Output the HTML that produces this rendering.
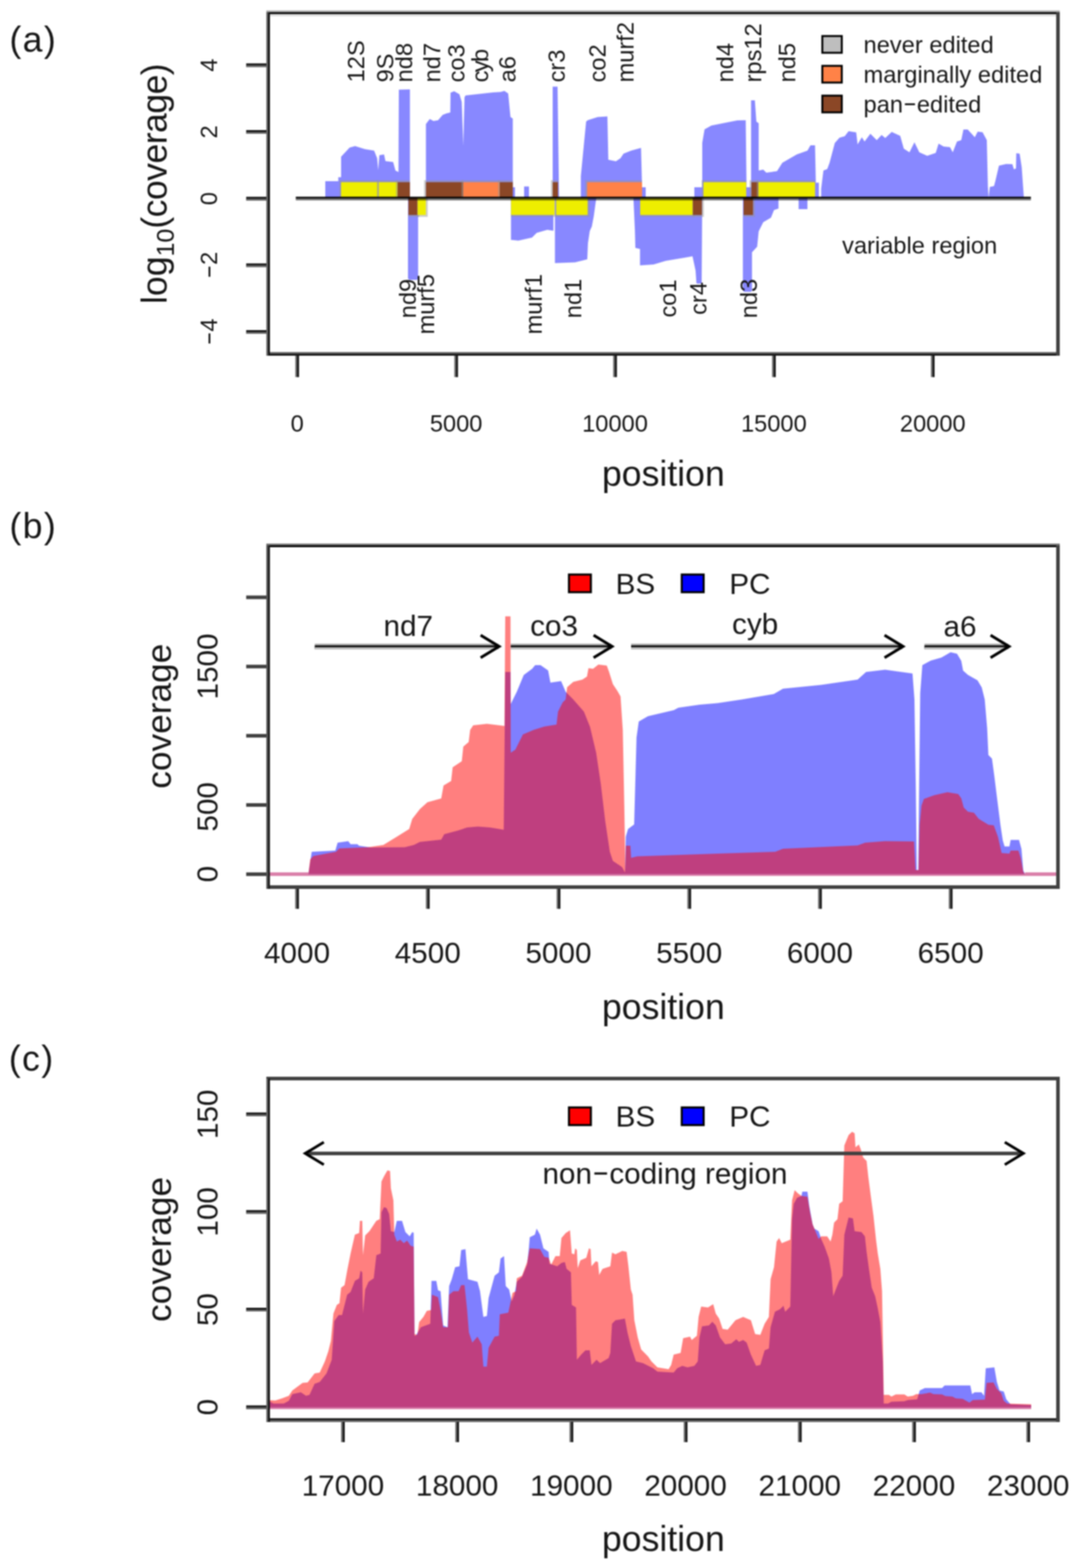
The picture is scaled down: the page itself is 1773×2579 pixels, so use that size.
<!DOCTYPE html>
<html><head><meta charset="utf-8"><title>Figure</title>
<style>
html,body{margin:0;padding:0;background:#fff;}
body{width:1773px;height:2579px;overflow:hidden;}
svg{display:block;}
text{font-family:"Liberation Sans",Arial,Helvetica,sans-serif;fill:#161616;}
</style></head><body>
<svg width="1773" height="2579" viewBox="0 0 1773 2579">
<defs><filter id="soft" x="0" y="0" width="100%" height="100%" filterUnits="objectBoundingBox" color-interpolation-filters="sRGB"><feGaussianBlur stdDeviation="0.85"/></filter></defs>
<g filter="url(#soft)">
<rect width="1773" height="2579" fill="#fff"/>
<polygon points="535.0,325.4 535.0,298.0 556.4,298.0 556.4,291.6 561.0,291.6 561.0,257.8 575.0,242.8 584.0,240.3 600.0,245.3 615.3,247.8 620.3,260.3 622.0,280.0 624.0,255.3 631.6,254.0 634.0,265.0 646.6,266.6 650.4,280.4 655.4,283.0 656.0,147.5 674.2,147.0 674.2,325.4" fill="#8888FF" />
<polygon points="700.5,325.4 700.5,204.0 706.8,195.7 713.0,199.0 720.5,197.7 728.0,189.0 734.3,186.4 740.6,185.0 741.0,152.6 746.9,150.0 755.6,155.0 759.4,167.6 762.0,240.0 764.0,160.0 765.7,157.0 810.8,152.0 823.3,151.3 829.6,149.5 835.8,153.8 839.6,192.6 843.4,195.0 843.4,308.0 847.0,308.0 847.0,325.4" fill="#8888FF" />
<polygon points="862.0,325.4 862.0,306.7 870.0,306.7 870.0,325.4" fill="#8888FF" />
<polygon points="909.0,325.4 909.0,142.5 917.0,142.5 919.5,325.4" fill="#8888FF" />
<polygon points="955.3,325.4 955.3,290.0 964.0,200.0 966.6,197.7 983.0,192.6 999.0,191.4 1000.5,262.8 1013.0,265.3 1020.5,260.3 1025.5,252.8 1038.0,247.8 1054.3,243.3 1056.0,308.0 1062.0,308.0 1062.0,325.4" fill="#8888FF" />
<polygon points="1142.0,325.4 1142.0,308.0 1155.0,308.0 1155.0,235.0 1158.8,212.7 1170.0,206.4 1195.0,201.4 1212.7,198.0 1226.5,197.7 1227.8,308.0 1235.3,308.0 1235.3,165.0 1241.5,165.0 1244.0,200.0 1247.8,202.7 1247.8,280.4 1255.3,279.0 1260.4,284.0 1278.0,281.6 1286.7,267.8 1310.5,254.0 1328.0,247.8 1333.0,239.0 1340.5,239.0 1341.8,300.4 1346.8,300.4 1346.8,325.4" fill="#8888FF" />
<polygon points="1350.6,325.4 1350.6,310.5 1354.3,280.4 1360.6,278.0 1364.4,267.8 1373.0,235.3 1380.7,226.5 1389.4,224.0 1395.7,215.7 1408.2,217.7 1410.5,237.5 1417.5,225.8 1422.0,232.8 1431.5,220.0 1442.0,230.5 1450.0,222.0 1456.0,227.0 1466.6,217.0 1480.6,223.5 1486.5,244.5 1495.8,250.4 1504.0,234.0 1512.0,250.4 1525.0,256.2 1539.0,251.5 1543.7,236.3 1552.0,241.0 1562.4,242.0 1567.0,250.4 1574.0,232.8 1581.0,230.5 1584.6,213.0 1591.6,213.0 1603.3,225.8 1608.0,216.5 1616.0,217.6 1623.0,230.5 1624.8,307.6 1626.0,325.4 1628.0,307.6 1634.9,306.0 1637.0,298.0 1643.0,272.5 1654.7,269.7 1665.0,270.0 1667.6,278.4 1671.0,277.0 1671.5,252.0 1677.0,252.7 1680.4,275.0 1684.0,325.4" fill="#8888FF" />
<polygon points="671.0,325.4 671.0,458.0 673.0,460.3 686.0,460.3 687.7,458.0 687.7,325.4" fill="#8888FF" />
<polygon points="840.4,325.4 840.4,394.4 852.6,395.7 875.0,390.7 882.7,383.0 900.0,378.0 910.2,379.4 910.2,325.4" fill="#8888FF" />
<polygon points="912.7,325.4 912.7,432.7 945.8,431.5 965.9,426.5 967.0,400.0 970.0,380.0 973.4,372.6 976.6,355.6 980.4,328.0 981.0,325.4" fill="#8888FF" />
<polygon points="1041.8,325.4 1044.3,380.6 1045.0,407.7 1052.6,409.5 1052.6,436.5 1075.0,435.0 1095.0,429.0 1125.0,424.0 1139.0,421.5 1144.0,445.0 1145.4,465.0 1146.0,466.6 1154.0,466.6 1155.0,325.4" fill="#8888FF" />
<polygon points="1221.8,325.4 1221.8,478.0 1224.0,480.0 1235.0,480.0 1236.8,478.0 1236.8,415.0 1245.3,405.7 1247.8,380.6 1255.3,365.6 1268.0,358.0 1273.0,345.5 1280.4,343.0 1280.4,325.4" fill="#8888FF" />
<polygon points="1313.5,325.4 1313.5,344.0 1328.0,344.0 1328.0,325.4" fill="#8888FF" />
<rect x="561.00" y="299.50" width="60.60" height="25.90" fill="#EEEE00" />
<rect x="558.04" y="296.50" width="63.56" height="3.00" fill="rgba(150,150,150,0.5)" />
<rect x="558.04" y="299.50" width="2.96" height="25.90" fill="rgba(150,150,150,0.5)" />
<rect x="622.80" y="299.50" width="31.20" height="25.90" fill="#EEEE00" />
<rect x="619.84" y="296.50" width="34.16" height="3.00" fill="rgba(150,150,150,0.5)" />
<rect x="619.84" y="299.50" width="2.96" height="25.90" fill="rgba(150,150,150,0.5)" />
<rect x="654.00" y="299.50" width="20.20" height="25.90" fill="#8B4726" />
<rect x="651.04" y="296.50" width="23.16" height="3.00" fill="rgba(150,150,150,0.5)" />
<rect x="651.04" y="299.50" width="2.96" height="25.90" fill="rgba(150,150,150,0.5)" />
<rect x="700.50" y="299.50" width="61.50" height="25.90" fill="#8B4726" />
<rect x="697.54" y="296.50" width="64.45" height="3.00" fill="rgba(150,150,150,0.5)" />
<rect x="697.54" y="299.50" width="2.96" height="25.90" fill="rgba(150,150,150,0.5)" />
<rect x="762.00" y="299.50" width="60.00" height="25.90" fill="#FF8247" />
<rect x="759.04" y="296.50" width="62.95" height="3.00" fill="rgba(150,150,150,0.5)" />
<rect x="759.04" y="299.50" width="2.96" height="25.90" fill="rgba(150,150,150,0.5)" />
<rect x="822.00" y="299.50" width="21.40" height="25.90" fill="#8B4726" />
<rect x="819.04" y="296.50" width="24.35" height="3.00" fill="rgba(150,150,150,0.5)" />
<rect x="819.04" y="299.50" width="2.96" height="25.90" fill="rgba(150,150,150,0.5)" />
<rect x="909.00" y="299.50" width="8.70" height="25.90" fill="#8B4726" />
<rect x="906.04" y="296.50" width="11.66" height="3.00" fill="rgba(150,150,150,0.5)" />
<rect x="906.04" y="299.50" width="2.96" height="25.90" fill="rgba(150,150,150,0.5)" />
<rect x="965.40" y="299.50" width="90.60" height="25.90" fill="#FF8247" />
<rect x="962.44" y="296.50" width="93.56" height="3.00" fill="rgba(150,150,150,0.5)" />
<rect x="962.44" y="299.50" width="2.96" height="25.90" fill="rgba(150,150,150,0.5)" />
<rect x="1157.00" y="299.50" width="70.30" height="25.90" fill="#EEEE00" />
<rect x="1154.05" y="296.50" width="73.25" height="3.00" fill="rgba(150,150,150,0.5)" />
<rect x="1154.05" y="299.50" width="2.96" height="25.90" fill="rgba(150,150,150,0.5)" />
<rect x="1235.80" y="299.50" width="11.50" height="25.90" fill="#8B4726" />
<rect x="1232.85" y="296.50" width="14.46" height="3.00" fill="rgba(150,150,150,0.5)" />
<rect x="1232.85" y="299.50" width="2.96" height="25.90" fill="rgba(150,150,150,0.5)" />
<rect x="1247.30" y="299.50" width="93.20" height="25.90" fill="#EEEE00" />
<rect x="1244.35" y="296.50" width="96.16" height="3.00" fill="rgba(150,150,150,0.5)" />
<rect x="1244.35" y="299.50" width="2.96" height="25.90" fill="rgba(150,150,150,0.5)" />
<rect x="671.70" y="325.40" width="15.00" height="28.30" fill="#8B4726" />
<rect x="671.70" y="353.70" width="17.95" height="2.96" fill="rgba(150,150,150,0.5)" />
<rect x="686.70" y="325.40" width="2.96" height="28.30" fill="rgba(150,150,150,0.5)" />
<rect x="686.70" y="325.40" width="13.80" height="28.30" fill="#EEEE00" />
<rect x="686.70" y="353.70" width="16.75" height="2.96" fill="rgba(150,150,150,0.5)" />
<rect x="700.50" y="325.40" width="2.96" height="28.30" fill="rgba(150,150,150,0.5)" />
<rect x="840.50" y="325.40" width="71.70" height="28.30" fill="#EEEE00" />
<rect x="840.50" y="353.70" width="74.66" height="2.96" fill="rgba(150,150,150,0.5)" />
<rect x="912.20" y="325.40" width="2.96" height="28.30" fill="rgba(150,150,150,0.5)" />
<rect x="914.70" y="325.40" width="51.90" height="28.30" fill="#EEEE00" />
<rect x="914.70" y="353.70" width="54.85" height="2.96" fill="rgba(150,150,150,0.5)" />
<rect x="966.60" y="325.40" width="2.96" height="28.30" fill="rgba(150,150,150,0.5)" />
<rect x="1053.00" y="325.40" width="86.50" height="28.30" fill="#EEEE00" />
<rect x="1053.00" y="353.70" width="89.45" height="2.96" fill="rgba(150,150,150,0.5)" />
<rect x="1139.50" y="325.40" width="2.96" height="28.30" fill="rgba(150,150,150,0.5)" />
<rect x="1139.50" y="325.40" width="15.10" height="28.30" fill="#8B4726" />
<rect x="1139.50" y="353.70" width="18.05" height="2.96" fill="rgba(150,150,150,0.5)" />
<rect x="1154.60" y="325.40" width="2.96" height="28.30" fill="rgba(150,150,150,0.5)" />
<rect x="1223.00" y="325.40" width="15.60" height="28.30" fill="#8B4726" />
<rect x="1223.00" y="353.70" width="18.55" height="2.96" fill="rgba(150,150,150,0.5)" />
<rect x="1238.60" y="325.40" width="2.96" height="28.30" fill="rgba(150,150,150,0.5)" />
<rect x="486.50" y="323.60" width="1209.00" height="2.96" fill="#000" />
<rect x="486.50" y="326.56" width="1209.00" height="2.96" fill="rgba(0,0,0,0.55)" />
<rect x="438.00" y="17.20" width="1305.01" height="8.87" fill="#aaa" />
<rect x="438.00" y="20.16" width="1305.01" height="5.91" fill="#000" />
<rect x="438.00" y="23.11" width="1305.01" height="2.96" fill="#ddd" />
<rect x="438.00" y="579.00" width="1305.01" height="5.91" fill="#666" />
<rect x="438.00" y="581.96" width="1305.01" height="2.96" fill="#111" />
<rect x="438.00" y="20.16" width="5.91" height="564.75" fill="#666" />
<rect x="440.95" y="20.16" width="2.96" height="564.75" fill="#111" />
<rect x="1737.10" y="20.16" width="5.91" height="564.75" fill="#404040" />
<rect x="404.90" y="104.30" width="33.10" height="5.91" fill="#111" />
<rect x="404.90" y="107.25" width="33.10" height="2.96" fill="#666" />
<text x="0.0" y="0.0" font-size="38.9" text-anchor="middle" transform="translate(357.4 107.2) rotate(-90)" >4</text>
<rect x="404.90" y="214.00" width="33.10" height="5.91" fill="#111" />
<rect x="404.90" y="216.96" width="33.10" height="2.96" fill="#666" />
<text x="0.0" y="0.0" font-size="38.9" text-anchor="middle" transform="translate(357.4 216.9) rotate(-90)" >2</text>
<rect x="404.90" y="323.70" width="33.10" height="5.91" fill="#111" />
<rect x="404.90" y="326.65" width="33.10" height="2.96" fill="#666" />
<text x="0.0" y="0.0" font-size="38.9" text-anchor="middle" transform="translate(357.4 326.6) rotate(-90)" >0</text>
<rect x="404.90" y="433.30" width="33.10" height="5.91" fill="#111" />
<rect x="404.90" y="436.25" width="33.10" height="2.96" fill="#666" />
<text x="0.0" y="0.0" font-size="38.9" text-anchor="middle" transform="translate(357.4 436.2) rotate(-90)" ><tspan textLength="22.7" lengthAdjust="spacingAndGlyphs" dy="-2.8">-</tspan><tspan dy="2.8">2</tspan></text>
<rect x="404.90" y="543.00" width="33.10" height="5.91" fill="#111" />
<rect x="404.90" y="545.96" width="33.10" height="2.96" fill="#666" />
<text x="0.0" y="0.0" font-size="38.9" text-anchor="middle" transform="translate(357.4 545.9) rotate(-90)" ><tspan textLength="22.7" lengthAdjust="spacingAndGlyphs" dy="-2.8">-</tspan><tspan dy="2.8">4</tspan></text>
<rect x="485.75" y="584.90" width="5.91" height="35.30" fill="#666" />
<rect x="488.70" y="584.90" width="2.96" height="35.30" fill="#111" />
<text x="488.7" y="709.7" font-size="38.9" text-anchor="middle" >0</text>
<rect x="747.25" y="584.90" width="5.91" height="35.30" fill="#666" />
<rect x="750.20" y="584.90" width="2.96" height="35.30" fill="#111" />
<text x="750.2" y="709.7" font-size="38.9" text-anchor="middle" >5000</text>
<rect x="1008.54" y="584.90" width="5.91" height="35.30" fill="#666" />
<rect x="1011.50" y="584.90" width="2.96" height="35.30" fill="#111" />
<text x="1011.5" y="709.7" font-size="38.9" text-anchor="middle" >10000</text>
<rect x="1269.85" y="584.90" width="5.91" height="35.30" fill="#666" />
<rect x="1272.80" y="584.90" width="2.96" height="35.30" fill="#111" />
<text x="1272.8" y="709.7" font-size="38.9" text-anchor="middle" >15000</text>
<rect x="1531.14" y="584.90" width="5.91" height="35.30" fill="#666" />
<rect x="1534.10" y="584.90" width="2.96" height="35.30" fill="#111" />
<text x="1534.1" y="709.7" font-size="38.9" text-anchor="middle" >20000</text>
<text x="1091.0" y="799.0" font-size="58.6" text-anchor="middle" >position</text>
<text x="15.5" y="85.0" font-size="58.6" text-anchor="start" letter-spacing="2.3">(a)</text>
<text transform="translate(273.8 302.5) rotate(-90)" font-size="58.6" text-anchor="middle">log<tspan font-size="41" dy="12">10</tspan><tspan dy="-12" letter-spacing="-0.9">(coverage)</tspan></text>
<text x="0.0" y="0.0" font-size="38.9" text-anchor="start" transform="translate(599.0 135.6) rotate(-90)" >12S</text>
<text x="0.0" y="0.0" font-size="38.9" text-anchor="start" transform="translate(647.0 135.6) rotate(-90)" >9S</text>
<text x="0.0" y="0.0" font-size="38.9" text-anchor="start" transform="translate(677.5 135.6) rotate(-90)" >nd8</text>
<text x="0.0" y="0.0" font-size="38.9" text-anchor="start" transform="translate(724.0 135.6) rotate(-90)" >nd7</text>
<text x="0.0" y="0.0" font-size="38.9" text-anchor="start" transform="translate(764.0 135.6) rotate(-90)" >co3</text>
<text x="0.0" y="0.0" font-size="38.9" text-anchor="start" transform="translate(803.0 135.6) rotate(-90)" letter-spacing="-2.6">cyb</text>
<text x="0.0" y="0.0" font-size="38.9" text-anchor="start" transform="translate(847.5 135.6) rotate(-90)" >a6</text>
<text x="0.0" y="0.0" font-size="38.9" text-anchor="start" transform="translate(928.5 135.6) rotate(-90)" >cr3</text>
<text x="0.0" y="0.0" font-size="38.9" text-anchor="start" transform="translate(996.0 135.6) rotate(-90)" >co2</text>
<text x="0.0" y="0.0" font-size="38.9" text-anchor="start" transform="translate(1041.5 135.6) rotate(-90)" >murf2</text>
<text x="0.0" y="0.0" font-size="38.9" text-anchor="start" transform="translate(1206.0 135.6) rotate(-90)" >nd4</text>
<text x="0.0" y="0.0" font-size="38.9" text-anchor="start" transform="translate(1251.5 135.6) rotate(-90)" >rps12</text>
<text x="0.0" y="0.0" font-size="38.9" text-anchor="start" transform="translate(1308.0 135.6) rotate(-90)" >nd5</text>
<text x="0.0" y="0.0" font-size="38.9" text-anchor="middle" transform="translate(683.5 491.0) rotate(-90)" >nd9</text>
<text x="0.0" y="0.0" font-size="38.9" text-anchor="middle" transform="translate(714.0 500.4) rotate(-90)" >murf5</text>
<text x="0.0" y="0.0" font-size="38.9" text-anchor="middle" transform="translate(891.0 500.4) rotate(-90)" >murf1</text>
<text x="0.0" y="0.0" font-size="38.9" text-anchor="middle" transform="translate(956.0 491.0) rotate(-90)" >nd1</text>
<text x="0.0" y="0.0" font-size="38.9" text-anchor="middle" transform="translate(1112.0 491.0) rotate(-90)" >co1</text>
<text x="0.0" y="0.0" font-size="38.9" text-anchor="middle" transform="translate(1162.0 491.0) rotate(-90)" >cr4</text>
<text x="0.0" y="0.0" font-size="38.9" text-anchor="middle" transform="translate(1245.0 491.0) rotate(-90)" >nd3</text>
<text x="1385.0" y="417.3" font-size="38.9" text-anchor="start" >variable region</text>
<rect x="1352.50" y="59.30" width="32.00" height="27.50" fill="#BEBEBE" stroke="#000" stroke-width="3.2"/>
<text x="1420.3" y="87.0" font-size="38.9" text-anchor="start" >never edited</text>
<rect x="1352.50" y="108.30" width="32.00" height="27.50" fill="#FF8247" stroke="#000" stroke-width="3.2"/>
<text x="1420.3" y="135.8" font-size="38.9" text-anchor="start" >marginally edited</text>
<rect x="1352.50" y="157.30" width="32.00" height="27.50" fill="#8B4726" stroke="#000" stroke-width="3.2"/>
<text x="1420.3" y="184.6" font-size="38.9" text-anchor="start" >pan<tspan textLength="22.7" lengthAdjust="spacingAndGlyphs" dy="-2.8">-</tspan><tspan dy="2.8">edited</tspan></text>
<rect x="441.00" y="1437.70" width="1296.10" height="2.90" fill="#d878a4" />
<rect x="441.00" y="1434.90" width="66.20" height="2.90" fill="#d878a4" />
<rect x="1686.00" y="1434.90" width="51.10" height="2.90" fill="#d878a4" />
<polygon points="507.2,1437.8 512.7,1401.0 551.5,1399.0 555.3,1386.0 572.8,1383.5 576.6,1388.5 587.9,1388.5 590.4,1391.0 610.4,1394.0 665.6,1393.5 680.6,1389.7 690.6,1384.7 725.7,1381.0 730.7,1372.0 753.3,1366.0 768.3,1361.0 785.9,1359.6 806.0,1361.0 828.5,1364.7 831.0,1105.3 839.6,1105.3 840.0,1157.9 850.0,1137.8 861.4,1110.3 875.2,1100.0 880.2,1094.0 889.0,1094.0 901.5,1102.8 905.3,1122.8 922.8,1120.3 930.3,1137.8 942.9,1150.4 960.4,1170.4 970.4,1195.5 980.5,1238.0 988.0,1288.2 995.5,1350.9 1003.0,1401.0 1008.0,1416.0 1023.0,1426.0 1028.0,1435.0 1029.3,1376.0 1033.0,1363.4 1043.0,1356.0 1046.9,1213.0 1050.6,1186.7 1065.7,1178.0 1108.3,1168.0 1115.8,1164.0 1150.9,1159.0 1180.0,1156.6 1220.0,1150.4 1272.7,1141.6 1287.8,1132.8 1350.4,1126.6 1410.6,1117.8 1424.4,1105.3 1455.7,1101.5 1500.8,1107.8 1504.0,1150.4 1506.3,1300.0 1507.8,1431.0 1510.3,1431.0 1511.3,1330.0 1513.5,1140.0 1517.0,1094.0 1530.9,1086.5 1548.4,1081.5 1563.5,1072.7 1574.0,1075.3 1581.0,1087.0 1584.0,1103.0 1591.9,1110.0 1607.7,1118.9 1614.7,1130.8 1619.6,1150.6 1623.6,1198.0 1625.6,1241.7 1631.5,1247.7 1635.5,1277.4 1639.4,1309.0 1645.4,1356.6 1649.3,1382.4 1652.3,1392.3 1660.2,1392.3 1662.2,1381.4 1676.0,1381.4 1680.0,1396.3 1683.0,1432.0 1686.0,1437.8" fill="rgba(0,0,255,0.5)" />
<polygon points="507.2,1437.8 510.2,1413.5 515.2,1408.0 552.8,1401.0 557.8,1395.5 605.4,1393.5 630.5,1389.7 653.0,1376.0 673.0,1363.4 678.0,1347.0 690.6,1330.8 703.0,1319.5 725.7,1313.3 729.5,1292.0 742.0,1284.5 744.5,1262.0 759.5,1251.9 762.0,1228.0 770.8,1220.5 773.3,1200.5 778.3,1193.0 800.9,1190.5 829.7,1194.0 831.0,1013.8 839.6,1013.8 840.0,1238.0 847.6,1233.0 860.0,1208.0 877.7,1200.5 895.2,1195.0 915.3,1191.7 917.8,1170.4 925.3,1155.4 930.3,1150.4 932.8,1130.3 942.9,1121.5 957.9,1117.8 965.4,1112.8 967.9,1099.0 975.4,1100.0 984.2,1093.0 998.0,1094.7 1001.8,1105.3 1008.0,1125.3 1015.5,1136.6 1020.6,1145.4 1024.3,1200.5 1026.8,1325.8 1028.6,1433.6 1029.3,1391.0 1036.8,1391.0 1038.0,1411.0 1048.0,1408.5 1180.0,1404.0 1275.0,1401.0 1287.8,1396.0 1410.6,1390.5 1423.0,1386.0 1455.7,1383.5 1503.3,1384.0 1505.8,1431.0 1510.8,1431.0 1512.6,1356.6 1515.6,1325.0 1519.6,1314.0 1536.4,1308.0 1558.2,1303.0 1576.0,1306.0 1581.0,1313.0 1585.0,1328.0 1591.9,1334.9 1601.8,1336.8 1609.7,1346.7 1625.6,1356.6 1634.5,1357.6 1641.4,1376.5 1647.4,1403.0 1660.2,1404.0 1662.2,1399.0 1675.0,1399.0 1679.0,1412.0 1683.0,1434.0 1686.0,1437.8" fill="rgba(255,0,0,0.5)" />
<rect x="438.00" y="894.00" width="1305.01" height="5.91" fill="#777" />
<rect x="438.00" y="896.96" width="1305.01" height="2.96" fill="#000" />
<rect x="438.00" y="1456.10" width="1305.01" height="5.91" fill="#404040" />
<rect x="438.00" y="896.96" width="5.91" height="565.05" fill="#555" />
<rect x="440.95" y="896.96" width="2.96" height="565.05" fill="#1a1a1a" />
<rect x="1737.10" y="896.96" width="5.91" height="565.05" fill="#404040" />
<rect x="404.90" y="1434.90" width="33.10" height="5.91" fill="#404040" />
<text x="0.0" y="0.0" font-size="48.8" text-anchor="middle" transform="translate(358.0 1437.8) rotate(-90)" >0</text>
<rect x="404.90" y="1321.05" width="33.10" height="5.91" fill="#404040" />
<text x="0.0" y="0.0" font-size="48.8" text-anchor="middle" transform="translate(358.0 1327.0) rotate(-90)" >500</text>
<rect x="404.90" y="1207.20" width="33.10" height="5.91" fill="#404040" />
<rect x="404.90" y="1093.35" width="33.10" height="5.91" fill="#404040" />
<text x="0.0" y="0.0" font-size="48.8" text-anchor="middle" transform="translate(358.0 1096.2) rotate(-90)" >1500</text>
<rect x="404.90" y="979.50" width="33.10" height="5.91" fill="#404040" />
<rect x="485.55" y="1462.00" width="5.91" height="32.70" fill="#666" />
<rect x="488.50" y="1462.00" width="2.96" height="32.70" fill="#111" />
<text x="488.5" y="1584.4" font-size="48.8" text-anchor="middle" >4000</text>
<rect x="700.54" y="1462.00" width="5.91" height="32.70" fill="#666" />
<rect x="703.50" y="1462.00" width="2.96" height="32.70" fill="#111" />
<text x="703.5" y="1584.4" font-size="48.8" text-anchor="middle" >4500</text>
<rect x="915.54" y="1462.00" width="5.91" height="32.70" fill="#666" />
<rect x="918.50" y="1462.00" width="2.96" height="32.70" fill="#111" />
<text x="918.5" y="1584.4" font-size="48.8" text-anchor="middle" >5000</text>
<rect x="1130.55" y="1462.00" width="5.91" height="32.70" fill="#666" />
<rect x="1133.50" y="1462.00" width="2.96" height="32.70" fill="#111" />
<text x="1133.5" y="1584.4" font-size="48.8" text-anchor="middle" >5500</text>
<rect x="1345.55" y="1462.00" width="5.91" height="32.70" fill="#666" />
<rect x="1348.50" y="1462.00" width="2.96" height="32.70" fill="#111" />
<text x="1348.5" y="1584.4" font-size="48.8" text-anchor="middle" >6000</text>
<rect x="1560.55" y="1462.00" width="5.91" height="32.70" fill="#666" />
<rect x="1563.50" y="1462.00" width="2.96" height="32.70" fill="#111" />
<text x="1563.5" y="1584.4" font-size="48.8" text-anchor="middle" >6500</text>
<text x="1091.0" y="1675.6" font-size="58.6" text-anchor="middle" >position</text>
<text x="15.5" y="884.7" font-size="58.6" text-anchor="start" letter-spacing="2.3">(b)</text>
<text x="0.0" y="0.0" font-size="58.0" text-anchor="middle" transform="translate(281.0 1178.0) rotate(-90)" >coverage</text>
<rect x="935.80" y="945.00" width="36.00" height="29.00" fill="#FF0000" stroke="#000" stroke-width="3.4"/>
<text x="1012.5" y="976.5" font-size="48.8" text-anchor="start" >BS</text>
<rect x="1121.30" y="945.00" width="36.00" height="29.00" fill="#0000FF" stroke="#000" stroke-width="3.4"/>
<text x="1199.5" y="976.5" font-size="48.8" text-anchor="start" >PC</text>
<rect x="517.70" y="1058.70" width="301.80" height="8.87" fill="#aaa" />
<rect x="517.70" y="1061.65" width="301.80" height="5.91" fill="#000" />
<rect x="517.70" y="1064.61" width="301.80" height="2.96" fill="#ccc" />
<polyline points="790.5,1044.7 821.0,1063.2 790.5,1081.7" fill="none" stroke="#000" stroke-width="4.6" stroke-linejoin="miter" stroke-linecap="butt"/>
<text x="671.5" y="1046.4" font-size="48.8" text-anchor="middle" >nd7</text>
<rect x="840.00" y="1058.70" width="165.30" height="8.87" fill="#aaa" />
<rect x="840.00" y="1061.65" width="165.30" height="5.91" fill="#000" />
<rect x="840.00" y="1064.61" width="165.30" height="2.96" fill="#ccc" />
<polyline points="976.3,1044.7 1006.8,1063.2 976.3,1081.7" fill="none" stroke="#000" stroke-width="4.6" stroke-linejoin="miter" stroke-linecap="butt"/>
<text x="911.3" y="1046.4" font-size="48.8" text-anchor="middle" >co3</text>
<rect x="1038.00" y="1058.70" width="445.80" height="8.87" fill="#aaa" />
<rect x="1038.00" y="1061.65" width="445.80" height="5.91" fill="#000" />
<rect x="1038.00" y="1064.61" width="445.80" height="2.96" fill="#ccc" />
<polyline points="1454.8,1044.7 1485.3,1063.2 1454.8,1081.7" fill="none" stroke="#000" stroke-width="4.6" stroke-linejoin="miter" stroke-linecap="butt"/>
<text x="1242.0" y="1043.0" font-size="48.8" text-anchor="middle" >cyb</text>
<rect x="1520.50" y="1058.70" width="137.70" height="8.87" fill="#aaa" />
<rect x="1520.50" y="1061.65" width="137.70" height="5.91" fill="#000" />
<rect x="1520.50" y="1064.61" width="137.70" height="2.96" fill="#ccc" />
<polyline points="1629.2,1044.7 1659.7,1063.2 1629.2,1081.7" fill="none" stroke="#000" stroke-width="4.6" stroke-linejoin="miter" stroke-linecap="butt"/>
<text x="1579.0" y="1046.6" font-size="48.8" text-anchor="middle" >a6</text>
<rect x="441.00" y="2314.70" width="1255.00" height="2.90" fill="#d878a4" />
<polygon points="441.0,2314.8 441.0,2303.6 449.7,2308.4 466.7,2308.4 475.0,2304.0 480.8,2292.9 494.8,2290.0 503.3,2295.7 509.0,2294.3 517.4,2276.0 525.9,2273.0 537.0,2259.0 545.6,2236.5 549.8,2173.0 556.9,2163.0 562.5,2163.0 571.0,2129.4 576.6,2125.0 583.7,2106.8 590.7,2102.6 593.0,2089.9 595.8,2092.7 597.0,2160.4 600.6,2121.0 606.2,2108.2 614.7,2102.6 619.0,2064.5 626.0,2061.7 627.4,1994.0 631.6,1985.6 635.8,1987.0 640.0,1996.8 642.9,2025.0 648.5,2026.4 652.7,2008.0 661.2,2008.0 666.8,2026.4 673.9,2033.5 678.0,2026.4 680.4,2027.8 681.8,2197.0 683.8,2197.0 692.2,2183.0 707.7,2177.3 709.7,2106.8 717.6,2106.8 720.4,2122.3 724.6,2123.7 728.9,2180.0 736.0,2183.0 738.7,2115.3 743.0,2104.0 748.6,2084.2 755.7,2082.8 758.5,2056.0 765.5,2054.6 769.7,2104.0 785.3,2108.2 789.5,2123.7 795.0,2166.0 800.8,2164.6 803.6,2135.0 813.5,2098.3 820.5,2092.7 823.3,2070.0 829.0,2066.0 831.8,2115.3 837.4,2121.0 841.6,2140.6 846.0,2130.0 850.0,2108.0 858.6,2100.0 867.0,2080.0 869.8,2053.2 871.3,2035.0 879.7,2030.7 882.6,2020.8 888.2,2030.7 893.8,2053.2 902.3,2058.9 903.7,2078.6 916.4,2082.8 923.4,2077.2 929.0,2075.8 931.9,2087.0 939.0,2092.7 940.4,2146.3 947.4,2150.5 948.8,2236.5 955.9,2228.0 962.9,2221.0 970.0,2221.0 972.8,2245.0 981.2,2236.5 986.9,2242.0 1001.0,2233.7 1003.8,2225.2 1006.6,2177.3 1012.3,2171.6 1027.8,2168.8 1032.0,2191.4 1037.6,2214.0 1046.0,2239.3 1057.4,2242.0 1074.3,2250.6 1081.3,2256.0 1108.0,2257.6 1113.8,2250.6 1122.2,2246.4 1130.7,2249.0 1142.0,2246.4 1147.6,2239.3 1150.4,2199.8 1154.6,2181.5 1166.0,2180.0 1171.6,2173.9 1177.2,2180.0 1184.2,2199.8 1192.7,2211.0 1202.6,2209.7 1211.0,2202.7 1215.3,2207.0 1222.3,2204.0 1228.0,2208.3 1235.0,2228.0 1243.5,2246.4 1250.5,2245.0 1257.6,2221.0 1264.6,2218.0 1267.4,2183.0 1274.5,2157.6 1283.0,2153.3 1288.6,2147.7 1291.4,2157.6 1299.8,2149.0 1302.7,2005.3 1305.5,1980.0 1311.0,1970.0 1318.2,1967.0 1319.6,1960.0 1328.0,1960.0 1330.9,1982.7 1336.5,2013.8 1339.3,2020.8 1346.4,2025.0 1350.6,2037.7 1356.3,2050.4 1363.3,2070.0 1367.5,2092.7 1370.4,2132.0 1374.6,2121.0 1380.2,2106.8 1385.9,2098.3 1388.7,2030.7 1391.5,2019.4 1395.7,2002.5 1402.8,2004.0 1405.6,2025.0 1416.9,2026.4 1422.5,2033.5 1425.3,2058.9 1429.6,2089.9 1433.8,2118.0 1439.4,2132.0 1443.7,2151.9 1447.9,2174.5 1452.0,2239.3 1453.5,2308.4 1460.6,2308.4 1466.2,2305.6 1487.4,2304.8 1493.0,2302.8 1508.5,2301.4 1512.7,2287.0 1521.2,2283.0 1549.4,2283.0 1553.6,2278.8 1595.9,2278.8 1598.7,2293.0 1603.0,2290.0 1614.2,2290.0 1618.5,2295.7 1621.3,2250.6 1635.4,2249.0 1639.6,2273.0 1643.9,2287.0 1650.9,2288.7 1655.0,2301.4 1662.0,2309.8 1696.0,2311.0 1696.0,2314.8" fill="rgba(0,0,255,0.5)" />
<polygon points="441.0,2314.8 441.0,2302.8 452.6,2303.6 463.8,2300.0 475.0,2295.7 480.8,2287.0 497.7,2274.6 506.0,2273.7 517.4,2259.0 525.9,2257.6 534.3,2239.3 540.0,2222.4 544.2,2205.5 548.4,2160.4 554.0,2146.3 558.3,2143.5 561.0,2118.0 566.7,2113.8 571.0,2089.9 576.6,2061.7 583.7,2030.7 590.7,2027.9 592.0,2008.0 595.8,2008.0 597.0,2064.5 600.6,2032.0 607.6,2025.0 618.9,2008.0 624.5,2005.3 627.4,1943.3 631.6,1934.8 637.2,1925.0 641.5,1926.0 642.9,1954.5 647.0,1974.3 648.5,2030.7 652.7,2042.0 658.4,2039.0 664.0,2044.8 669.7,2040.5 675.3,2049.0 680.4,2050.4 681.8,2194.2 686.6,2195.6 689.4,2174.5 696.4,2166.0 702.0,2156.0 709.0,2154.7 710.5,2129.4 720.4,2133.6 724.6,2154.7 728.9,2183.0 736.8,2183.0 738.7,2129.4 745.8,2123.7 754.2,2123.7 758.5,2113.8 764.0,2113.8 768.3,2154.7 771.2,2191.4 776.8,2208.3 785.3,2198.4 792.3,2211.0 795.0,2247.8 800.8,2247.8 803.6,2216.8 813.5,2198.4 820.5,2197.0 822.0,2161.8 836.0,2159.0 843.0,2126.5 848.7,2123.7 850.0,2102.6 858.6,2098.3 867.0,2075.8 871.3,2053.2 888.2,2054.6 895.2,2067.3 902.3,2068.7 906.5,2080.0 913.6,2066.0 920.6,2066.0 923.4,2036.3 930.5,2027.9 937.5,2023.6 940.4,2061.7 944.6,2063.0 946.0,2053.2 948.8,2056.0 950.2,2085.7 954.5,2073.0 964.3,2068.7 968.6,2053.2 971.4,2054.6 972.8,2082.8 979.8,2074.4 983.5,2075.8 985.5,2097.0 991.0,2087.0 1003.8,2082.8 1006.6,2060.3 1012.3,2063.0 1023.5,2057.5 1030.6,2058.9 1033.4,2081.4 1037.6,2121.0 1040.4,2129.4 1043.3,2171.6 1048.9,2199.8 1054.5,2219.6 1065.8,2230.9 1071.5,2239.3 1081.3,2249.0 1099.7,2252.0 1103.9,2245.0 1108.0,2228.0 1119.4,2225.2 1123.6,2201.0 1134.9,2198.4 1137.7,2204.0 1146.2,2197.0 1149.0,2166.0 1153.2,2149.0 1164.5,2150.5 1173.0,2144.9 1177.2,2160.4 1182.8,2168.8 1188.5,2185.7 1196.9,2187.0 1209.6,2171.6 1222.3,2166.0 1235.0,2171.6 1242.0,2194.2 1250.5,2195.6 1257.6,2177.3 1264.6,2166.0 1267.4,2104.0 1273.0,2084.2 1277.3,2042.0 1281.5,2036.3 1285.7,2044.8 1299.8,2039.0 1302.7,1974.3 1307.0,1957.4 1312.6,1963.0 1318.2,1967.0 1328.0,1968.6 1332.3,1994.0 1336.5,2013.8 1346.4,2037.7 1350.6,2033.5 1360.5,2033.5 1366.0,2042.0 1369.0,2030.7 1371.8,2011.0 1377.4,2005.3 1380.2,1980.0 1385.9,1975.7 1388.7,1884.0 1395.7,1867.0 1401.4,1861.5 1405.6,1864.0 1407.0,1886.9 1412.6,1882.6 1415.5,1889.7 1419.7,1903.8 1425.3,1909.4 1428.0,1934.8 1432.4,1968.6 1436.6,1999.7 1440.8,2039.0 1443.7,2061.7 1447.9,2087.0 1450.7,2123.7 1452.0,2199.8 1453.5,2294.3 1462.0,2294.3 1466.2,2297.0 1473.3,2293.5 1487.4,2293.5 1493.0,2297.0 1501.5,2295.7 1507.0,2293.0 1515.6,2293.0 1529.7,2290.6 1535.3,2293.0 1549.4,2293.5 1555.0,2296.3 1566.3,2297.0 1572.0,2300.0 1583.2,2300.8 1594.5,2307.0 1600.0,2302.8 1619.9,2302.0 1622.7,2274.6 1634.0,2273.7 1639.6,2284.4 1646.7,2291.5 1650.9,2304.0 1656.5,2308.4 1696.0,2309.8 1696.0,2314.8" fill="rgba(255,0,0,0.5)" />
<rect x="438.00" y="1771.00" width="1305.01" height="5.91" fill="#404040" />
<rect x="438.00" y="2332.70" width="1305.01" height="5.91" fill="#111" />
<rect x="438.00" y="2335.65" width="1305.01" height="2.96" fill="#666" />
<rect x="438.00" y="1773.95" width="5.91" height="564.65" fill="#666" />
<rect x="440.95" y="1773.95" width="2.96" height="564.65" fill="#111" />
<rect x="1737.10" y="1773.95" width="5.91" height="564.65" fill="#404040" />
<rect x="404.90" y="2311.60" width="33.10" height="5.91" fill="#111" />
<rect x="404.90" y="2314.55" width="33.10" height="2.96" fill="#666" />
<text x="0.0" y="0.0" font-size="48.8" text-anchor="middle" transform="translate(358.0 2314.5) rotate(-90)" >0</text>
<rect x="404.90" y="2151.00" width="33.10" height="5.91" fill="#111" />
<rect x="404.90" y="2153.95" width="33.10" height="2.96" fill="#666" />
<text x="0.0" y="0.0" font-size="48.8" text-anchor="middle" transform="translate(358.0 2153.9) rotate(-90)" >50</text>
<rect x="404.90" y="1990.40" width="33.10" height="5.91" fill="#111" />
<rect x="404.90" y="1993.36" width="33.10" height="2.96" fill="#666" />
<text x="0.0" y="0.0" font-size="48.8" text-anchor="middle" transform="translate(358.0 1993.3) rotate(-90)" >100</text>
<rect x="404.90" y="1829.80" width="33.10" height="5.91" fill="#111" />
<rect x="404.90" y="1832.75" width="33.10" height="2.96" fill="#666" />
<text x="0.0" y="0.0" font-size="48.8" text-anchor="middle" transform="translate(358.0 1832.7) rotate(-90)" >150</text>
<rect x="561.04" y="2338.60" width="5.91" height="33.40" fill="#666" />
<rect x="564.00" y="2338.60" width="2.96" height="33.40" fill="#111" />
<text x="564.0" y="2460.4" font-size="48.8" text-anchor="middle" >17000</text>
<rect x="748.89" y="2338.60" width="5.91" height="33.40" fill="#666" />
<rect x="751.85" y="2338.60" width="2.96" height="33.40" fill="#111" />
<text x="751.9" y="2460.4" font-size="48.8" text-anchor="middle" >18000</text>
<rect x="936.75" y="2338.60" width="5.91" height="33.40" fill="#666" />
<rect x="939.70" y="2338.60" width="2.96" height="33.40" fill="#111" />
<text x="939.7" y="2460.4" font-size="48.8" text-anchor="middle" >19000</text>
<rect x="1124.60" y="2338.60" width="5.91" height="33.40" fill="#666" />
<rect x="1127.55" y="2338.60" width="2.96" height="33.40" fill="#111" />
<text x="1127.5" y="2460.4" font-size="48.8" text-anchor="middle" >20000</text>
<rect x="1312.45" y="2338.60" width="5.91" height="33.40" fill="#666" />
<rect x="1315.40" y="2338.60" width="2.96" height="33.40" fill="#111" />
<text x="1315.4" y="2460.4" font-size="48.8" text-anchor="middle" >21000</text>
<rect x="1500.30" y="2338.60" width="5.91" height="33.40" fill="#666" />
<rect x="1503.25" y="2338.60" width="2.96" height="33.40" fill="#111" />
<text x="1503.2" y="2460.4" font-size="48.8" text-anchor="middle" >22000</text>
<rect x="1688.14" y="2338.60" width="5.91" height="33.40" fill="#666" />
<rect x="1691.10" y="2338.60" width="2.96" height="33.40" fill="#111" />
<text x="1691.1" y="2460.4" font-size="48.8" text-anchor="middle" >23000</text>
<text x="1091.0" y="2550.6" font-size="58.6" text-anchor="middle" >position</text>
<text x="14.5" y="1760.6" font-size="58.6" text-anchor="start" letter-spacing="2.3">(c)</text>
<text x="0.0" y="0.0" font-size="58.0" text-anchor="middle" transform="translate(281.0 2055.0) rotate(-90)" >coverage</text>
<rect x="935.80" y="1821.50" width="36.00" height="29.00" fill="#FF0000" stroke="#000" stroke-width="3.4"/>
<text x="1012.5" y="1853.0" font-size="48.8" text-anchor="start" >BS</text>
<rect x="1121.30" y="1821.50" width="36.00" height="29.00" fill="#0000FF" stroke="#000" stroke-width="3.4"/>
<text x="1199.5" y="1853.0" font-size="48.8" text-anchor="start" >PC</text>
<rect x="504.00" y="1894.20" width="1178.00" height="5.91" fill="#404040" />
<polyline points="1652.6,1878.6 1683.1,1897.1 1652.6,1915.6" fill="none" stroke="#000" stroke-width="4.6" stroke-linejoin="miter" stroke-linecap="butt"/>
<polyline points="532.6,1878.6 502.1,1897.1 532.6,1915.6" fill="none" stroke="#000" stroke-width="4.6" stroke-linejoin="miter" stroke-linecap="butt"/>
<text x="1093.7" y="1947.0" font-size="48.8" text-anchor="middle" >non<tspan textLength="28.5" lengthAdjust="spacingAndGlyphs" dy="-3.6">-</tspan><tspan dy="3.6">coding region</tspan></text>
</g>
</svg>
</body></html>
